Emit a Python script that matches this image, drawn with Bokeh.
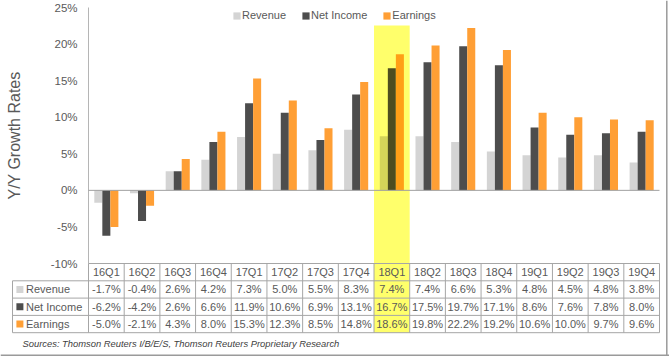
import math
from bokeh.plotting import figure
from bokeh.models import Range1d, ColumnDataSource, Legend, LegendItem, Label, Span
from bokeh.core.properties import value
from bokeh.embed import file_html
from bokeh.resources import INLINE

# ---------------- data ----------------
quarters = ["16Q1", "16Q2", "16Q3", "16Q4", "17Q1", "17Q2", "17Q3", "17Q4",
            "18Q1", "18Q2", "18Q3", "18Q4", "19Q1", "19Q2", "19Q3", "19Q4"]
revenue = [-1.7, -0.4, 2.6, 4.2, 7.3, 5.0, 5.5, 8.3, 7.4, 7.4, 6.6, 5.3, 4.8, 4.5, 4.8, 3.8]
net_income = [-6.2, -4.2, 2.6, 6.6, 11.9, 10.6, 6.9, 13.1, 16.7, 17.5, 19.7, 17.1, 8.6, 7.6, 7.8, 8.0]
earnings = [-5.0, -2.1, 4.3, 8.0, 15.3, 12.3, 8.5, 14.8, 18.6, 19.8, 22.2, 19.2, 10.6, 10.0, 9.7, 9.6]
series_names = ["Revenue", "Net Income", "Earnings"]
highlight_quarter = "18Q1"
y_ticks = [-10, -5, 0, 5, 10, 15, 20, 25]
y_title = "Y/Y Growth Rates"
source_note = "Sources: Thomson Reuters I/B/E/S, Thomson Reuters Proprietary Research"

# ---------------- styles ----------------
colors = ["#D4D4D4", "#4D4D4D", "#FF9F35"]
HL_COLOR = "#FFFF6B"
TEXT = "#595959"
LINE = "#A6A6A6"
FONT = "Liberation Sans"

# ---------------- layout (pixels) ----------------
W, H = 669, 356
PLOT_LEFT, PLOT_RIGHT = 88, 659
Y_TOP_PX, Y_BOTTOM_PX = 7, 263
ROW_PX = 17.3
n = len(quarters)
ux = (PLOT_RIGHT - PLOT_LEFT) / n
uy = (Y_BOTTOM_PX - Y_TOP_PX) / (y_ticks[-1] - y_ticks[0])


def xd(px):
    return (px - PLOT_LEFT) / ux


def yd(py):
    return y_ticks[-1] - (py - Y_TOP_PX) / uy


def multiply(c1, c2):
    a = [int(c1[i:i + 2], 16) for i in (1, 3, 5)]
    b = [int(c2[i:i + 2], 16) for i in (1, 3, 5)]
    return "#%02X%02X%02X" % tuple(round(x * y / 255) for x, y in zip(a, b))


p = figure(width=W, height=H, x_range=Range1d(xd(0), xd(W)), y_range=Range1d(yd(H), yd(0)),
           output_backend="svg", toolbar_location=None, x_axis_type=None, y_axis_type=None,
           min_border=0, outline_line_color=None)
p.grid.visible = False

hl = quarters.index(highlight_quarter)
row_y = [yd(Y_BOTTOM_PX + k * ROW_PX) for k in range(5)]  # header top .. table bottom
label_left = xd(12)

# highlight band
p.quad(left=[hl], right=[hl + 1], top=[yd(25)], bottom=[row_y[-1]],
       fill_color=HL_COLOR, line_color=None)

# bars
BAR_W = 0.225
offsets = [-BAR_W, 0, BAR_W]
renderers = []
for vals, col, off in zip([revenue, net_income, earnings], colors, offsets):
    src = ColumnDataSource(dict(
        x=[i + 0.5 + off for i in range(n)],
        top=vals,
        color=[multiply(col, HL_COLOR) if i == hl else col for i in range(n)],
    ))
    r = p.vbar(x="x", top="top", bottom=0, width=BAR_W, fill_color="color",
               line_color=None, source=src)
    renderers.append(r)

# axis line & zero line
p.segment(x0=[0], y0=[y_ticks[0]], x1=[0], y1=[y_ticks[-1]], line_color="#B5B5B5", line_width=1)
p.segment(x0=[0], y0=[0], x1=[n], y1=[0], line_color="#A0A0A0", line_width=1)

# y tick labels
p.text(x=[xd(77)] * len(y_ticks), y=y_ticks, text=["%d%%" % t for t in y_ticks],
       text_align="right", text_baseline="middle", text_font=value(FONT),
       text_font_size=value("11.5px"), text_color=TEXT)

# table grid
p.segment(x0=[0], y0=[row_y[0]], x1=[n], y1=[row_y[0]], line_color=LINE)
p.segment(x0=[label_left] * 4, y0=row_y[1:], x1=[n] * 4, y1=row_y[1:], line_color=LINE)
p.segment(x0=list(range(n + 1)), y0=[row_y[0]] * (n + 1), x1=list(range(n + 1)),
          y1=[row_y[-1]] * (n + 1), line_color=LINE)
p.segment(x0=[label_left], y0=[row_y[1]], x1=[label_left], y1=[row_y[-1]], line_color=LINE)

# header
centers = [i + 0.5 for i in range(n)]
p.text(x=centers, y=[(row_y[0] + row_y[1]) / 2] * n, text=quarters, text_align="center",
       text_baseline="middle", text_font=value(FONT), text_font_size=value("11px"),
       text_color=TEXT)

# rows
for k, (name, vals, col) in enumerate(zip(series_names, [revenue, net_income, earnings], colors)):
    yc = (row_y[k + 1] + row_y[k + 2]) / 2
    p.text(x=centers, y=[yc] * n, text=["%.1f%%" % v for v in vals], text_align="center",
           text_baseline="middle", text_font=value(FONT), text_font_size=value("11px"),
           text_color=TEXT)
    p.scatter(x=[xd(19.4)], y=[yc], marker="square", size=7, fill_color=col, line_color=None)
    p.text(x=[xd(25.5)], y=[yc], text=[name], text_align="left", text_baseline="middle",
           text_font=value(FONT), text_font_size=value("11px"), text_color=TEXT)

# legend
legend = Legend(items=[LegendItem(label=nm, renderers=[r]) for nm, r in zip(series_names, renderers)],
                orientation="horizontal", location=(232, H - 21), glyph_width=9, glyph_height=9,
                label_height=9, label_standoff=1, spacing=15, padding=0, margin=0,
                border_line_color=None, background_fill_alpha=0,
                label_text_font=FONT, label_text_font_size="11px", label_text_color=TEXT)
p.add_layout(legend)

# y title
p.add_layout(Label(x=14, y=H - 135, x_units="screen", y_units="screen", text=y_title,
                   angle=math.pi / 2, text_align="center", text_baseline="middle",
                   text_font=FONT, text_font_size="16px", text_color=TEXT))

# source note
p.add_layout(Label(x=22, y=H - 343, x_units="screen", y_units="screen", text=source_note,
                   text_align="left", text_baseline="middle", text_font=FONT,
                   text_font_style="italic", text_font_size="9.4px", text_color="#404040"))

# outer frame (right & bottom)
p.add_layout(Span(location=xd(666.3), dimension="height", line_color="#9A9A9A", line_width=1.5))
p.add_layout(Span(location=yd(354.8), dimension="width", line_color="#9A9A9A", line_width=1.5))

open("out.html", "w").write(file_html(p, INLINE))
